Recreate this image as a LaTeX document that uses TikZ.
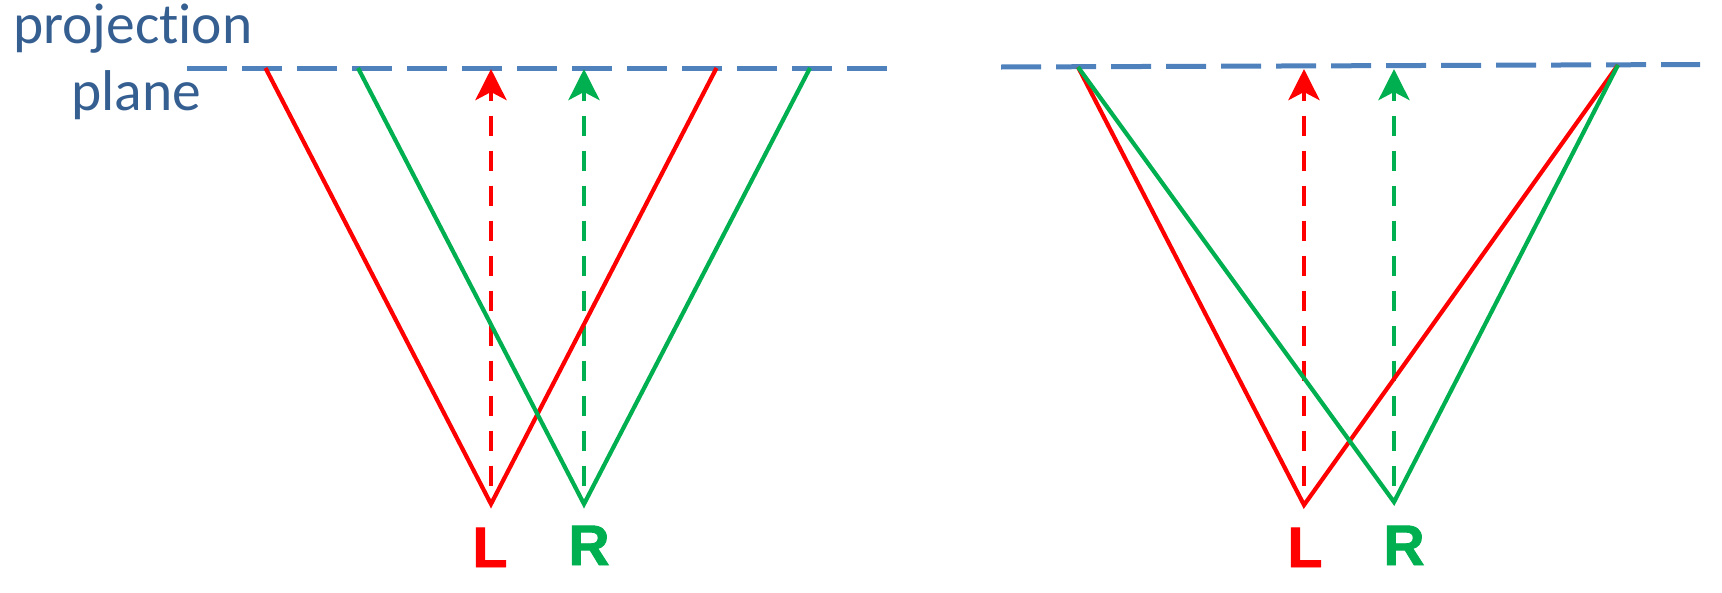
\documentclass[tikz,border=0pt]{standalone}
\usepackage{fontspec}
\setmainfont[Ligatures=NoCommon]{Carlito}
\newfontfamily\labfont[BoldFeatures={FakeBold=1.6}]{Liberation Sans}
\usetikzlibrary{arrows.meta}
\definecolor{planeblue}{HTML}{4F81BD}
\definecolor{textblue}{HTML}{365F91}
\definecolor{myred}{HTML}{FF0000}
\definecolor{mygreen}{HTML}{00B050}
\tikzset{
  planeline/.style={draw=planeblue, line width=5pt, dash pattern=on 40pt off 15pt},
  ray/.style={line width=4.2pt, line join=miter},
  proj/.style={line width=4.8pt, dash pattern=on 20pt off 15pt, dash phase=10pt,
     {Stealth[length=31pt,width=31pt,inset=8pt]}-},
  eyelabel/.style={font=\labfont\bfseries\fontsize{57}{57}\selectfont, inner sep=0pt, anchor=base},
  plabel/.style={font=\fontsize{57.5}{60}\selectfont, text=textblue, inner sep=0pt, anchor=base west}
}
\begin{document}
\begin{tikzpicture}[x=1pt,y=-1pt]
\useasboundingbox (0,0) rectangle (1722,592);
% text
\node[plabel] (t1) at (13,43) {projection};
\node[plabel] (t2) at (71,110) {plane};
% ---------- left diagram ----------
\coordinate (pa1) at (187,68);
\coordinate (pa2) at (889,68);
\draw[planeline] (pa1) -- (pa2);
\coordinate (L1) at (491,504);
\coordinate (R1) at (584,504);
\coordinate (lt1) at (265.5,68);
\coordinate (lt2) at (716.5,68);
\coordinate (rt1) at (358,68);
\coordinate (rt2) at (810,68);
\coordinate (La) at (491,69);
\coordinate (Ra) at (584,69);
\draw[proj, myred] (La) -- (L1);
\draw[proj, mygreen] (Ra) -- (R1);
\draw[ray, myred] (lt1) -- (L1) -- (lt2);
\draw[ray, mygreen] (rt1) -- (R1) -- (rt2);
\node[eyelabel, text=myred] (Lab1) at (490,567) {L};
\node[eyelabel, text=mygreen] (Rab1) at (589,565) {R};
% ---------- right diagram ----------
\coordinate (pb1) at (1001,67);
\coordinate (pb2) at (1700,64.5);
\draw[planeline] (pb1) -- (pb2);
\coordinate (L2) at (1304,505);
\coordinate (R2) at (1394,502);
\coordinate (T1) at (1078,67);
\coordinate (T2) at (1618,65);
\coordinate (Lb) at (1304,69);
\coordinate (Rb) at (1394,69);
\draw[proj, myred] (Lb) -- (L2);
\draw[proj, mygreen] (Rb) -- (R2);
\draw[ray, myred] (T1) -- (L2) -- (T2);
\draw[ray, mygreen] (T1) -- (R2) -- (T2);
\node[eyelabel, text=myred] (Lab2) at (1305,567) {L};
\node[eyelabel, text=mygreen] (Rab2) at (1404,565) {R};
\end{tikzpicture}
\end{document}
